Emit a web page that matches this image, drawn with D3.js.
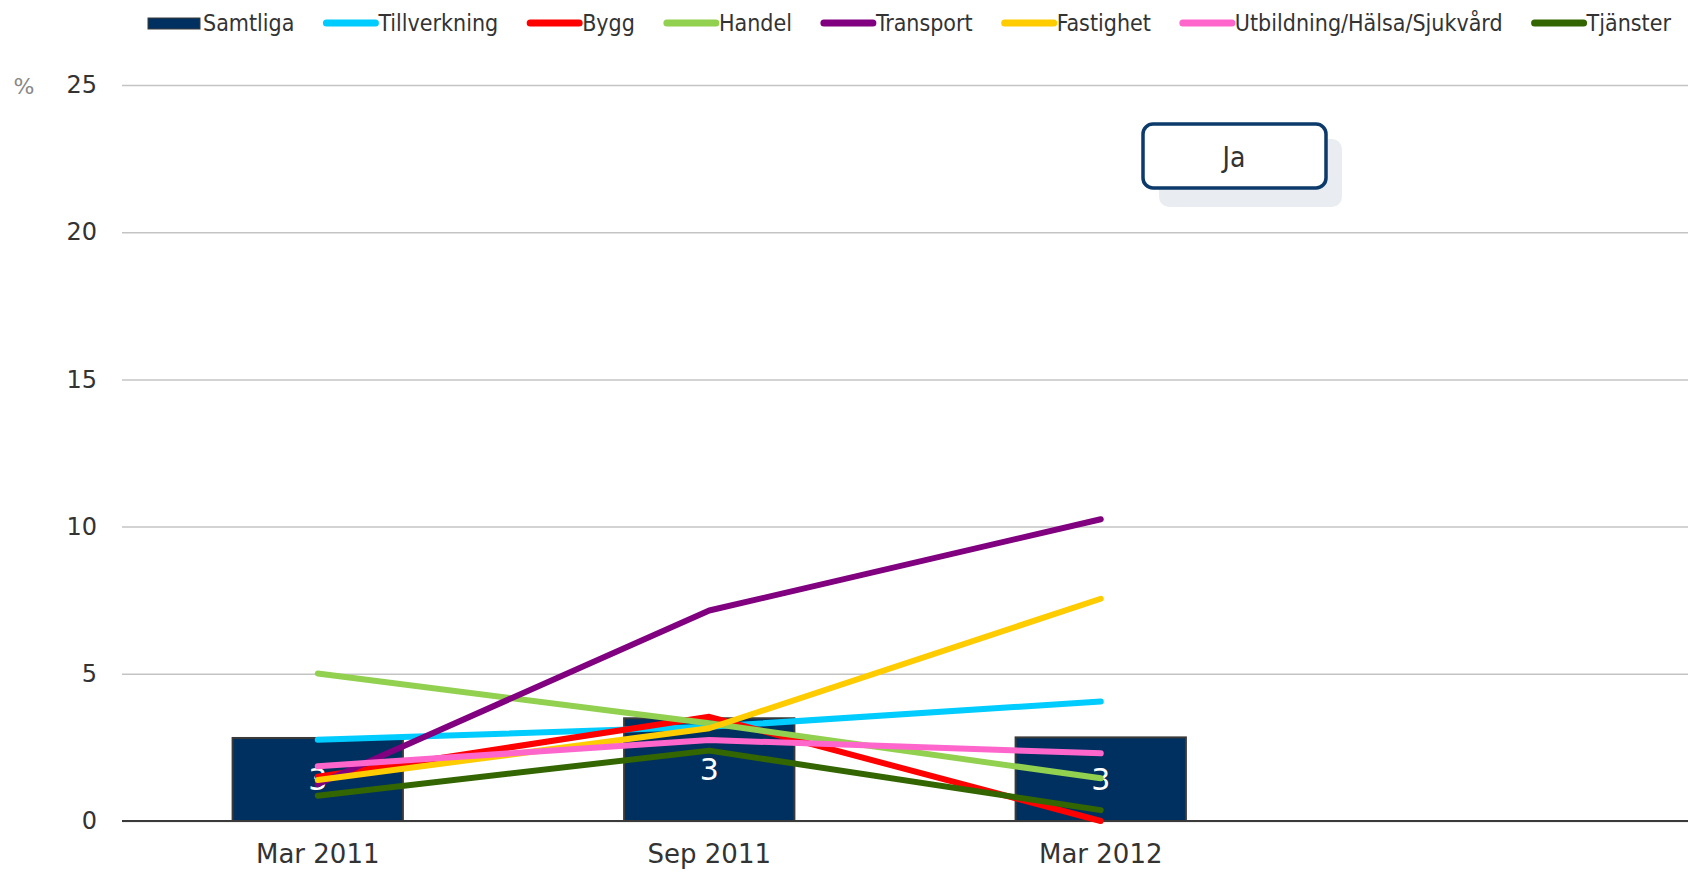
<!DOCTYPE html>
<html>
<head>
<meta charset="utf-8">
<script src="https://cdn.jsdelivr.net/npm/d3@7"></script>
<style>
  body { margin: 0; background: #fff; }
  text { font-family: "Liberation Sans Narrow", "DejaVu Sans Condensed", sans-serif; fill: #333; }
</style>
</head>
<body>
<div id="container"></div>
<script>
const WIDTH = 1688,
      HEIGHT = 874;

const margin = { top: 85, bottom: 53, left: 122, right: 0 };

const width = WIDTH - margin.left - margin.right,
      height = HEIGHT - margin.top - margin.bottom;

// data
const categories = ["Mar 2011", "Sep 2011", "Mar 2012", ""];
const samtliga = [2.82, 3.49, 2.84];
const samtligaLabels = ["3", "3", "3"];
const seriesNames = ["Tillverkning", "Bygg", "Handel", "Transport", "Fastighet", "Utbildning/Hälsa/Sjukvård", "Tjänster"];
const seriesColors = ["#00ccff", "#ff0000", "#92d050", "#800080", "#ffcc00", "#ff66cc", "#336600"];
const tillverkning = [2.76, 3.2, 4.06];
const bygg = [1.5, 3.54, 0];
const handel = [5.01, 3.32, 1.45];
const transport = [1.25, 7.15, 10.25];
const fastighet = [1.39, 3.15, 7.55];
const utbildning = [1.86, 2.75, 2.3];
const tjanster = [0.86, 2.39, 0.37];
const seriesValues = [tillverkning, bygg, handel, transport, fastighet, utbildning, tjanster];
const yTicks = [0, 5, 10, 15, 20, 25];

const svg = d3.select('#container').append('svg')
    .attr("width", WIDTH).attr("height", HEIGHT);

const container = svg.append('g')
    .attr("transform", `translate(${margin.left}, ${margin.top})`);

const xScale = d3.scaleBand()
    .domain(categories)
    .range([0, width])
    .paddingInner(0.565)
    .paddingOuter(0.2825);

const yScale = d3.scaleLinear()
    .domain([0, 25])
    .range([height, 0]);

// gridlines + y labels
const yAxis = d3.axisLeft(yScale).tickValues(yTicks).tickSize(-width).tickPadding(25);
const yg = container.append("g").call(yAxis);
yg.select(".domain").remove();
yg.selectAll("line").attr("stroke", "#c4c4c4").attr("stroke-width", 1.5);
yg.selectAll("text").attr("font-size", 24).attr("fill", "#333")
    .style("font-family", "'DejaVu Sans', sans-serif");

svg.append("text")
    .attr("x", 24).attr("y", yScale(25) + margin.top + 9)
    .attr("text-anchor", "middle")
    .attr("font-size", 22)
    .style("fill", "#888")
    .style("font-family", "'DejaVu Sans', sans-serif")
    .text("%");

// bars
container.selectAll("rect.bar")
    .data(samtliga)
    .join("rect")
    .attr("class", "bar")
    .attr("x", (d, i) => xScale(categories[i]))
    .attr("y", d => yScale(d))
    .attr("width", xScale.bandwidth())
    .attr("height", d => height - yScale(d))
    .attr("fill", "#003060")
    .attr("stroke", "#3a3a3a")
    .attr("stroke-width", 2);

container.selectAll("text.barlabel")
    .data(samtliga)
    .join("text")
    .attr("class", "barlabel")
    .attr("x", (d, i) => xScale(categories[i]) + xScale.bandwidth() / 2)
    .attr("y", d => (yScale(d) + height) / 2)
    .attr("dy", "0.36em")
    .attr("text-anchor", "middle")
    .attr("font-size", 30)
    .style("fill", "#fff")
    .style("font-family", "'DejaVu Sans', sans-serif")
    .text((d, i) => samtligaLabels[i]);

// baseline
container.append("line")
    .attr("x1", 0).attr("x2", width)
    .attr("y1", yScale(0)).attr("y2", yScale(0))
    .attr("stroke", "#3a3a3a").attr("stroke-width", 2);

// lines
const line = d3.line()
    .x((d, i) => xScale(categories[i]) + xScale.bandwidth() / 2)
    .y(d => yScale(d));

container.selectAll("path.series")
    .data(seriesValues)
    .join("path")
    .attr("class", "series")
    .attr("d", d => line(d))
    .attr("fill", "none")
    .attr("stroke", (d, i) => seriesColors[i])
    .attr("stroke-width", 6)
    .attr("stroke-linecap", "round")
    .attr("stroke-linejoin", "round");

// x labels
const xAxis = d3.axisBottom(xScale).tickSize(0).tickPadding(24);
const xg = container.append("g")
    .attr("transform", `translate(0, ${height})`)
    .call(xAxis);
xg.select(".domain").remove();
xg.selectAll("text").attr("font-size", 26).attr("fill", "#333")
    .style("font-family", "'DejaVu Sans', sans-serif");

// legend
const legend = svg.append("g").attr("transform", "translate(148, 23)");
let lx = 0;
const legendItems = [{ name: "Samtliga", color: "#003060", bar: true }]
    .concat(seriesNames.map((n, i) => ({ name: n, color: seriesColors[i], bar: false })));
legendItems.forEach(item => {
    const g = legend.append("g").attr("transform", `translate(${lx}, 0)`);
    if (item.bar) {
        g.append("rect").attr("x", 0).attr("y", -5).attr("width", 52).attr("height", 11)
            .attr("fill", item.color).attr("stroke", "#3a3a3a").attr("stroke-width", 1);
    } else {
        g.append("line").attr("x1", 3).attr("x2", 52).attr("y1", 0).attr("y2", 0)
            .attr("stroke", item.color).attr("stroke-width", 7).attr("stroke-linecap", "round");
    }
    const t = g.append("text").attr("x", 55).attr("dy", "0.35em")
        .attr("font-size", 23).text(item.name);
    lx += 55 + t.node().getComputedTextLength() + 29;
});

// "Ja" box
const box = svg.append("g").attr("transform", "translate(1143, 124)");
box.append("rect").attr("x", 16).attr("y", 15).attr("width", 183).attr("height", 68)
    .attr("rx", 10).attr("fill", "#e9edf1");
box.append("rect").attr("x", 0).attr("y", 0).attr("width", 183).attr("height", 64)
    .attr("rx", 10).attr("fill", "#fff").attr("stroke", "#0b3a6b").attr("stroke-width", 3.5);
box.append("text").attr("x", 91).attr("y", 33).attr("dy", "0.35em")
    .attr("text-anchor", "middle").attr("font-size", 28).text("Ja");
</script>
</body>
</html>
